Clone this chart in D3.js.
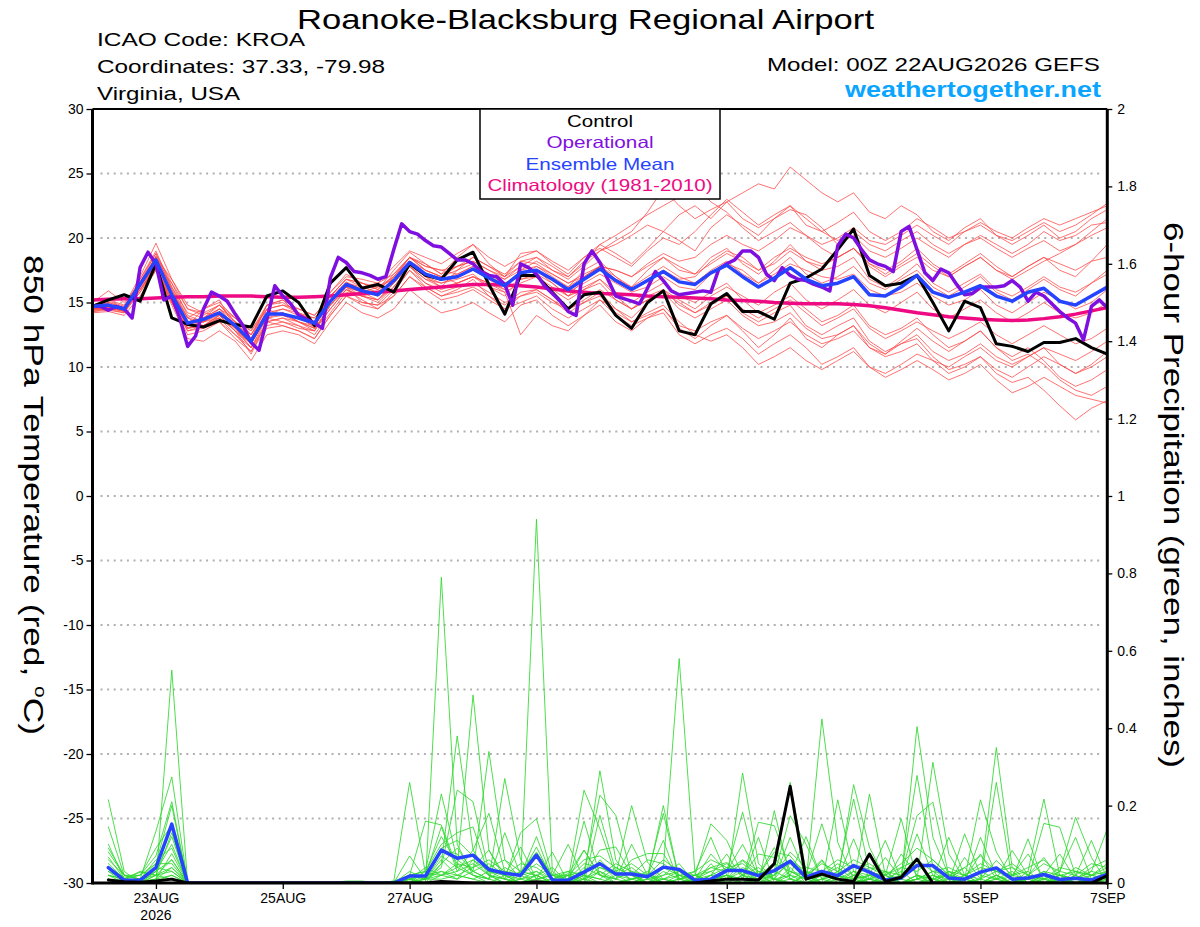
<!DOCTYPE html>
<html><head><meta charset="utf-8">
<script src="https://cdn.jsdelivr.net/npm/d3@7"></script>
<style>
body{margin:0;background:#fff}
svg{display:block}
text{font-family:"Liberation Sans",Arial,Helvetica,sans-serif}
</style>
</head><body>
<svg id="c" width="1200" height="927"></svg>
<script>
// ---------------- DATA ----------------
const titleText = "Roanoke-Blacksburg Regional Airport";
const infoLines = ["ICAO Code: KROA", "Coordinates: 37.33, -79.98", "Virginia, USA"];
const modelText = "Model: 00Z 22AUG2026 GEFS";
const siteText = "weathertogether.net";
const legendLabels = ["Control", "Operational", "Ensemble Mean", "Climatology (1981-2010)"];
const leftLabel = "850 hPa Temperature (red, ";
const rightLabel = "6-hour Precipitation (green, inches)";

const tempTicks = [-30,-25,-20,-15,-10,-5,0,5,10,15,20,25,30];
const precipTicks = [0,0.2,0.4,0.6,0.8,1,1.2,1.4,1.6,1.8,2];
const dateTicks = ["2026-08-23","2026-08-25","2026-08-27","2026-08-29","2026-09-01","2026-09-03","2026-09-05","2026-09-07"];
const dateTickLabels = ["23AUG","25AUG","27AUG","29AUG","1SEP","3SEP","5SEP","7SEP"];
const yearLabel = "2026";

// 6-hourly temperatures from 00Z 22AUG to 00Z 7SEP (65 values)
const controlTemp = [14.7,15.2,15.6,15.1,18.0,13.8,13.3,13.1,13.6,13.3,13.1,15.5,15.9,15.0,13.2,16.5,17.7,
 16.1,16.4,15.8,18.0,17.1,16.8,18.3,18.9,16.4,14.1,17.1,17.1,15.8,14.5,15.6,15.8,
 14.0,13.0,15.0,15.9,12.8,12.5,14.9,15.7,14.3,14.3,13.7,16.5,16.9,17.6,19.1,20.7,
 17.1,16.3,16.5,17.1,15.0,12.8,15.1,14.6,11.8,11.6,11.2,11.9,11.9,12.2,11.5,11.0];
const meanTemp = [14.7,14.8,14.5,16.4,18.3,15.6,13.4,13.7,14.2,13.2,12.0,14.1,14.1,13.8,13.4,15.1,16.4,
 15.9,15.6,16.7,18.1,17.2,16.8,17.0,17.6,16.9,16.3,17.3,17.5,16.8,16.0,16.8,17.6,
 16.7,16.0,16.7,17.4,16.6,16.4,17.3,17.9,17.0,16.2,16.9,17.7,16.8,16.3,16.5,17.0,
 15.6,15.5,16.2,17.1,15.8,15.4,15.8,16.3,15.5,15.1,15.8,16.1,15.1,14.8,15.5,16.2];
const climTemp = [15.2,15.25,15.3,15.3,15.35,15.4,15.45,15.45,15.5,15.5,15.5,15.45,15.4,15.4,15.45,15.5,15.6,
 15.7,15.8,15.9,16.0,16.1,16.2,16.3,16.4,16.4,16.35,16.3,16.2,16.05,15.9,15.8,15.7,
 15.65,15.6,15.5,15.45,15.4,15.35,15.3,15.2,15.15,15.1,15.0,14.95,14.9,14.9,14.9,14.85,
 14.75,14.6,14.4,14.2,14.05,13.9,13.8,13.7,13.65,13.6,13.65,13.75,13.9,14.1,14.35,14.6];
// 3-hourly operational run (129 values)
const operTemp = [14.7,14.7,14.4,14.7,14.5,13.8,17.7,18.9,18.0,15.2,15.5,13.8,11.6,12.4,14.5,15.8,15.5,15.1,14.1,13.2,11.9,11.3,13.7,16.3,15.5,14.9,14.0,13.7,13.4,13.0,16.9,18.5,18.1,
 17.4,17.3,17.1,16.8,17.0,19.1,21.1,20.5,20.3,19.8,19.4,19.3,18.8,18.3,18.3,18.0,17.4,17.1,17.0,16.4,14.8,18.0,17.7,17.2,16.3,15.7,15.1,14.3,14.0,18.0,19.0,18.1,
 16.8,15.5,15.3,15.1,14.9,16.1,17.4,16.7,15.9,15.6,15.7,15.8,15.9,15.8,17.6,18.0,18.3,19.0,19.0,18.5,17.2,16.7,17.7,17.1,16.8,16.7,16.4,16.2,15.9,19.4,20.3,20.0,
 19.1,18.3,18.0,17.8,17.4,20.5,20.9,19.1,17.3,16.7,17.6,17.3,16.4,15.6,15.7,16.2,16.2,16.2,16.3,16.7,16.2,15.1,15.8,15.5,14.9,14.3,13.8,13.4,12.1,14.7,15.2,14.6];

// ensemble members, 6-hourly temperature (65 values each)
const tempMembers = [
 [14.5,15.0,14.6,16.8,19.0, 16.2,13.8,14.5,15.0,13.8,12.5, 14.8,15.2,14.0,13.0,15.8,17.2, 16.5,16.0,17.5,18.9,18.0,17.2, 18.5,19.5,18.0,17.0,18.8,19.0, 18.0,17.2,18.5,19.5,18.8,18.0, 19.2,20.5,19.8,19.0,20.8,21.8, 21.0,20.2,21.5,22.5,21.0,20.5, 21.2,22.0,20.5,19.8,20.5,21.5, 20.8,20.0,20.5,21.0,20.2,19.8, 20.5,21.2,20.5,21.0,21.8,22.7],
 [14.3,14.4,14.2,15.8,17.8, 15.0,12.5,12.8,13.5,12.5,11.2, 13.5,13.2,12.8,12.2,14.0,15.5, 15.0,14.8,15.5,17.0,16.2,15.5, 15.8,16.2,15.5,14.8,15.8,16.0, 15.2,14.5,15.0,15.5,14.2,13.5, 14.0,14.5,13.2,12.8,13.5,14.0, 13.0,12.2,12.8,13.5,12.5,11.8, 12.2,12.8,11.5,11.0,11.8,12.5, 11.2,10.5,11.0,11.8,10.8,10.2, 10.8,11.5,10.2,9.5,10.0,10.8],
 [14.8,15.2,14.8,17.0,19.6, 16.8,14.5,14.2,14.8,13.5,12.8, 14.5,14.8,14.5,14.0,15.5,16.8, 16.2,16.5,17.2,18.5,17.5,17.0, 17.8,18.2,17.5,16.8,17.5,18.2, 17.5,16.8,17.8,19.0,19.5,20.2, 21.0,20.5,21.8,22.5,21.5,22.8, 23.5,24.2,23.8,25.5,24.5,23.5, 22.8,23.5,22.0,21.5,22.5,21.8, 20.5,19.8,20.8,21.5,20.2,19.5, 20.2,21.0,20.0,20.5,21.5,22.2],
 [14.6,14.8,14.4,16.2,18.5, 15.5,13.0,13.2,14.0,12.8,11.5, 13.8,14.2,13.5,13.0,14.8,16.0, 15.5,15.2,16.5,17.8,16.8,16.5, 16.8,17.2,16.2,15.5,16.8,17.0, 16.0,15.2,16.0,16.5,15.2,14.5, 15.5,16.0,14.8,14.2,15.0,15.5, 14.2,13.5,14.2,14.8,13.2,12.5, 13.2,13.8,12.0,11.2,11.8,12.2, 10.8,9.8,10.2,10.8,9.5,8.8, 9.2,8.2,7.0,5.9,6.8,7.4],
 [14.4,14.6,14.3,16.0,18.0, 16.5,14.0,13.5,14.5,13.8,12.5, 14.2,14.0,13.8,13.5,15.5,16.5, 16.0,15.5,17.0,18.5,17.8,17.5, 17.2,17.8,17.2,16.5,17.0,17.8, 17.2,16.5,17.0,17.8,17.0,16.2, 17.5,18.5,17.8,17.2,18.5,19.2, 18.0,17.2,18.2,19.5,18.2,17.5, 17.8,18.5,16.8,16.2,17.0,18.0, 16.5,15.8,16.5,17.2,16.0,15.5, 16.2,17.0,16.2,15.8,16.5,17.5],
 [14.2,14.3,14.0,15.5,17.5, 14.8,12.2,12.0,12.8,12.0,10.5, 12.5,12.8,12.5,11.8,13.5,15.0, 14.2,13.8,14.5,16.0,15.0,14.2, 14.5,15.0,14.2,13.5,14.8,15.2, 14.0,13.2,14.0,14.8,13.5,12.8, 13.8,14.5,13.0,12.2,13.2,14.0, 12.8,11.5,12.5,13.8,12.2,11.5, 12.5,13.2,11.8,11.0,12.0,13.0, 12.0,11.2,12.0,12.8,11.5,10.8, 11.5,10.5,9.2,8.5,9.0,9.8],
 [15.0,15.9,15.0,16.5,18.2, 15.2,13.2,14.5,15.2,13.0,11.8, 14.0,14.5,14.2,13.8,15.2,16.2, 15.8,16.2,16.8,18.2,17.0,16.2, 17.5,18.0,17.2,16.8,17.8,17.5, 16.8,15.8,16.5,17.2,16.5,15.8, 16.2,17.0,16.2,16.0,17.2,18.0, 17.5,16.5,17.2,18.0,17.5,17.0, 16.8,17.2,16.0,15.5,15.8,16.5, 15.5,14.8,15.2,16.0,14.8,14.2, 15.0,15.8,15.2,14.5,15.0,16.0],
 [14.5,14.7,14.5,16.8,18.8, 16.0,13.5,13.8,14.2,13.0,11.8, 14.5,14.0,13.5,13.2,15.0,16.5, 16.2,15.8,17.2,18.5,17.5,17.0, 17.5,18.5,17.8,17.0,18.2,18.5, 17.8,17.0,18.2,19.0,19.8,20.5, 22.0,23.8,22.5,21.5,22.2,22.8, 21.5,20.8,21.5,22.2,21.8,20.8, 19.5,20.2,19.0,18.5,19.2,20.0, 19.2,18.5,19.5,20.2,19.5,18.8, 19.5,20.5,19.8,20.2,21.0,21.2],
 [14.6,14.9,14.4,16.2,18.0, 15.8,13.8,13.2,13.8,12.8,11.0, 13.5,13.8,13.2,12.8,14.5,16.0, 15.2,14.5,15.8,17.5,16.2,15.5, 16.0,16.8,15.5,14.5,15.0,15.5, 14.5,13.8,14.5,15.2,14.0,13.2, 13.8,14.2,12.5,11.8,12.5,13.0, 12.2,11.0,11.8,12.5,11.5,10.2, 10.8,11.5,10.0,9.2,9.8,10.5, 9.8,9.0,9.5,10.2,9.0,8.0, 8.5,9.2,8.5,7.8,7.5,7.2],
 [14.3,14.5,14.6,16.6,18.5, 16.8,14.8,14.2,14.0,13.2,12.2, 14.8,15.0,14.2,13.5,15.5,16.8, 16.5,16.0,17.0,18.2,17.5,17.0, 16.5,17.0,16.5,16.0,17.5,17.8, 17.0,16.2,17.5,18.2,17.0,16.0, 16.8,17.5,16.8,17.0,18.2,19.0, 18.5,17.5,18.0,19.0,18.2,17.8, 18.5,19.2,18.0,17.5,18.2,19.2, 18.0,17.2,18.0,18.8,17.8,17.0, 17.8,18.5,17.5,17.0,18.2,19.5],
 [14.7,14.8,14.5,16.0,17.8, 15.2,12.8,13.2,14.0,13.5,12.0, 13.8,13.5,13.0,12.8,14.8,16.2, 15.5,15.8,16.5,18.0,17.2,16.8, 17.0,17.5,17.0,16.2,17.2,17.5, 16.5,15.5,16.8,17.8,17.5,17.0, 18.0,18.8,18.2,18.5,19.5,20.2, 19.5,19.0,19.8,20.8,20.2,19.5, 20.0,20.8,19.8,19.5,20.2,21.0, 20.2,19.5,20.5,21.2,20.5,20.0, 20.8,21.5,21.0,21.5,22.0,22.5],
 [14.5,14.6,14.3,15.8,17.5, 15.0,13.0,13.5,13.8,12.5,11.5, 13.2,13.5,13.2,12.5,14.2,15.8, 15.5,15.0,16.2,17.8,16.5,16.0, 16.5,17.0,16.2,15.8,12.5,14.0, 13.2,12.8,14.0,15.2,14.5,13.8, 15.0,16.0,15.2,14.5,15.5,16.2, 15.5,14.8,15.8,16.5,15.2,14.5, 15.2,16.0,14.8,14.2,15.0,15.8, 14.5,13.8,14.5,15.2,14.2,13.5, 14.2,15.0,14.2,13.8,14.2,15.0],
 [14.4,14.5,14.2,16.3,18.2, 15.5,13.5,13.8,14.8,13.5,12.2, 14.2,14.5,14.0,13.8,15.0,16.2, 15.8,15.2,16.5,18.0,17.0,16.5, 17.0,17.5,16.8,16.0,16.8,17.2, 16.5,15.5,16.2,16.8,15.5,14.5, 15.2,15.8,14.5,13.8,14.5,15.2, 14.0,13.2,13.5,14.2,13.0,12.2, 12.5,13.2,11.5,10.8,11.2,11.8, 10.5,9.5,10.0,10.8,9.8,9.2, 10.0,10.8,10.2,9.5,10.2,11.2],
 [14.8,15.1,14.7,16.5,18.6, 16.2,14.2,13.8,14.5,13.5,12.5, 14.5,14.8,14.2,13.5,15.8,17.0, 16.8,16.5,17.8,19.0,18.5,18.0, 18.8,19.5,18.5,17.8,18.5,19.0, 18.2,17.5,18.5,19.2,18.5,17.8, 19.0,20.0,19.5,20.5,21.8,23.0, 22.0,21.0,21.8,22.5,21.5,20.5, 19.8,20.5,19.5,19.0,19.8,20.5, 19.5,18.8,19.5,20.0,19.2,18.5, 19.2,19.8,19.0,19.5,20.2,20.8],
 [14.6,14.7,14.6,16.4,18.4, 15.8,13.2,13.5,14.0,12.8,11.8, 13.8,14.0,13.8,13.2,15.0,16.5, 16.0,15.5,16.8,18.2,17.2,16.8, 17.2,17.8,17.0,16.5,17.2,17.5, 16.8,16.2,17.0,17.8,16.8,16.2, 17.0,17.8,17.0,16.5,17.5,18.2, 17.2,16.5,17.5,18.5,17.2,16.5, 17.0,17.8,16.5,16.0,16.8,17.5, 16.2,15.5,16.2,17.0,15.8,15.2, 16.0,16.8,16.0,15.5,16.5,17.2],
 [14.5,14.5,14.4,16.2,18.0, 15.5,13.0,13.2,13.8,13.0,11.5, 13.5,13.8,13.5,13.0,14.5,16.0, 15.5,15.2,16.2,17.8,16.8,16.2, 16.5,17.0,16.5,15.8,16.5,17.0, 16.2,15.5,16.0,16.8,15.8,15.0, 15.8,16.5,15.5,15.0,15.8,16.5, 15.2,14.2,14.8,15.5,14.5,13.5, 14.0,14.8,13.2,12.5,13.0,13.8, 12.5,11.5,12.0,12.8,11.5,10.5, 11.0,10.2,9.0,8.2,7.8,8.5],
 [14.6,14.6,14.5,16.5,18.5, 16.0,13.8,13.5,14.2,13.2,12.0, 14.0,14.2,13.8,13.5,15.2,16.6, 16.0,15.8,16.8,18.5,17.8,17.5, 17.8,18.2,17.5,17.0,17.8,18.5, 17.5,17.0,18.0,19.5,20.2,21.0, 21.8,22.5,23.2,24.0,22.8,22.0, 20.8,19.8,20.5,21.2,20.2,19.2, 18.5,19.2,18.0,17.2,18.0,18.8, 17.8,17.0,17.8,18.5,17.5,16.8, 17.5,18.2,18.8,19.5,20.5,21.5],
 [14.4,14.8,14.3,16.0,17.8, 15.2,13.2,13.8,14.5,13.2,11.8, 14.0,14.2,13.5,12.8,14.8,16.2, 15.0,14.8,16.0,17.5,16.5,15.8, 16.2,16.5,15.8,15.0,15.5,16.0, 15.2,14.2,15.0,15.8,14.5,13.5, 14.2,14.8,13.5,12.5,12.0,12.5, 11.5,10.2,10.8,11.5,10.5,9.8, 10.5,11.2,10.0,9.5,10.2,11.0, 10.5,10.0,10.8,11.5,10.5,10.0, 10.8,11.5,11.0,10.5,11.2,12.0],
 [14.7,15.0,14.6,16.6,18.8, 16.5,14.5,14.0,14.8,13.8,12.8, 14.8,15.2,14.5,14.0,15.5,16.8, 16.5,16.2,17.0,18.5,18.0,17.2, 17.8,18.5,17.8,17.2,18.2,18.0, 17.2,16.5,17.2,17.8,17.5,17.0, 17.8,18.5,17.5,17.2,18.0,18.8, 18.2,17.5,18.5,19.2,18.5,18.0, 18.5,19.2,17.8,17.0,17.8,18.5, 17.5,17.0,17.8,18.5,17.5,17.0, 17.8,18.5,18.0,17.5,18.2,18.5],
 [14.5,14.6,14.4,16.0,17.6, 15.0,12.8,13.0,13.5,12.2,11.2, 13.0,13.2,12.8,12.2,14.0,15.5, 14.8,14.5,15.5,17.0,16.0,15.2, 15.5,16.0,15.2,14.5,15.5,15.8, 15.0,14.5,15.2,16.0,15.2,14.5, 15.2,15.8,15.0,14.2,14.8,15.5, 14.5,13.8,14.5,15.2,14.2,13.2, 13.8,14.5,13.0,12.2,12.8,13.5, 12.8,12.2,12.8,13.5,12.5,11.8, 12.5,13.2,12.5,11.8,12.2,13.0]
];

// 6-hour precipitation, 06Z 22AUG .. 00Z 7SEP (64 values)
const controlPrecip = [.008,.003,.002,.005,.01,0,0,0, 0,0,0,0,0,0,0,0, 0,0,0,0,0,.004,.002,0, 0,0,0,.003,0,0,0,0,
 0,0,0,0,0,0,.005,.01, .01,.008,.05,.25,.01,.023,.01,.004, .075,.004,.015,.062,0,0,0,0, 0,0,0,0,0,0,0,.019];
const meanPrecip = [.04,.007,.007,.04,.152,0,0,0, 0,0,0,0,0,0,0,0, 0,0,0,.018,.018,.085,.064,.072, .035,.025,.02,.072,.008,.007,.028,.05,
 .023,.023,.016,.041,.035,.007,.01,.032, .032,.019,.032,.056,.015,.03,.019,.045, .028,.008,.013,.045,.045,.013,.01,.028, .039,.01,.013,.022,.009,.012,.008,.022];
const precipMembers = [
 [.215,.03,0,0,.55,0,0,0, 0,0,0,0,0,0,0,0, 0,0,0,.01,0,.79,.1,.02, 0,0,.03,0,0,.01,.085,.02, 0,0,.01,0,0,0,.02,0, .284,.05,.01,0,.02,0,0,.03, 0,0,.01,.404,.118,.02,0,0, .01,0,.02,.066,.01,0,0,.01],
 [.145,.02,.01,.134,.274,0,0,0, 0,0,0,0,0,0,0,0, 0,0,.005,.26,.024,.02,.04,.486, .085,.01,0,.02,.04,0,.01,.29, .06,0,.02,0,0,.01,0,.02, 0,.01,.03,.26,.03,0,.02,0, .01,0,0,.02,0,.03,0,.01, .35,.04,0,.01,0,.02,0,0],
 [.1,.01,.02,.09,.15,0,0,0, 0,0,0,0,0,0,0,0, 0,0,0,.02,.01,.05,.38,.085, .02,0,.01,.94,.03,0,.02,0, 0,.01,0,.02,.05,0,.01,0, .02,0,.187,.01,0,.424,.105,.01, 0,.02,0,0,.01,0,.02,0, 0,.01,0,0,.02,.01,.03,.14],
 [.067,.01,.03,.02,.13,0,0,0, 0,0,0,0,0,0,0,0, 0,0,0,0,.03,.23,.06,.03, .34,.06,.01,.02,0,.01,0,.03, .01,0,.02,.04,.58,.024,0,.01, 0,.02,0,.01,.03,0,.01,.254, .092,.01,0,.02,0,.01,.04,0, .02,0,.01,0,.03,.17,.066,0],
 [.06,.02,.01,.06,.09,0,0,0, 0,0,0,0,0,0,0,0, 0,0,0,.02,.16,.15,.04,.02, .01,.27,.06,.01,0,.02,.01,0, .02,.2,.054,.01,0,.02,0,.03, .183,.02,0,.04,0,.01,.02,0, .01,.03,0,.01,.312,.075,.01,0, .02,0,.03,.217,.02,0,.01,.02],
 [.04,0,.005,.01,.076,0,0,0, 0,0,0,0,0,0,0,0, 0,0,0,.07,.01,.04,.24,.21, .03,.01,0,.02,0,.01,.24,.14, .02,0,.01,.2,.01,0,.02,.01, .03,0,.02,.174,.1,.01,0,.02, 0,.01,.02,.278,.04,0,.01,.215, .08,.01,0,.02,0,.01,.02,.01],
 [.03,.01,.028,.02,.06,0,0,0, 0,0,0,0,0,0,0,0, 0,0,0,.01,.02,.145,.03,.05, .02,.01,.13,.166,.02,.1,.01,.03, 0,.01,.02,.18,.01,.02,.153,.11, .02,0,.03,.01,0,.02,.01,0, .23,.02,0,.01,0,.03,.01,0, .26,.01,.114,0,.02,0,.01,.03],
 [.02,.01,.01,.05,.05,0,0,0, 0,0,0,0,0,0,0,0, 0,0,.005,.02,.03,.1,.13,.145, .02,0,.01,.03,0,.02,.03,.227, .175,.02,0,.01,.02,0,.01,.02, .01,.157,.148,.03,.01,0,.02,.01, 0,.02,.166,.01,.03,0,.02,.01, 0,.02,.01,.154,.144,.02,0,.01],
 [.02,0,0,.01,.04,0,0,0, 0,0,0,0,0,0,0,0, 0,0,0,.03,.01,.02,.03,.085, .18,.03,.02,.12,.01,0,.16,.02, .01,.1,.02,0,.01,.03,.118,.02, 0,.03,.01,0,.02,.153,.02,.217, .03,.01,0,.02,.01,0,.127,.02, .01,0,.02,.01,.03,.118,.01,.023],
 [.01,0,.01,.04,.03,0,0,0, 0,0,0,0,0,0,0,0, 0,0,0,.01,.02,.085,.075,.03, .01,.13,.02,.093,.01,.02,0,.175, .03,.01,.02,.11,0,.01,.075,.03, .1,.02,.01,.118,.02,0,.215,.03, .01,0,.02,.174,.209,.02,0,.01, .03,.01,0,.02,.075,.01,0,.02],
 [.01,0,0,.01,.02,0,0,0, 0,0,0,0,0,0,0,0, 0,0,0,0,.01,.03,.02,.04, .085,.02,.093,.01,.08,0,.02,.085, .093,.02,0,.01,.03,0,.02,.075, .01,.118,0,.02,.12,.01,.03,0, .02,.11,.01,0,.02,.01,0,.118, .02,0,.01,.03,0,.02,.11,.01],
 [0,0,0,.02,.01,0,0,0, 0,0,0,0,0,0,0,0, 0,0,0,.01,0,.02,.01,.03, .01,0,.02,.03,.01,.024,.085,.02, .01,.06,.076,.076,.01,.02,0,.01, .058,.02,.092,.01,0,.02,.01,.114, .01,0,.075,.02,.01,.118,.02,0, .01,.084,.02,0,.01,0,.02,.01],
 [.01,0,0,.005,.02,0,0,0, 0,0,0,0,0,0,0,0, 0,0,0,.02,.01,.06,.02,.01, .03,.02,0,.01,.02,0,.01,.04, .02,.01,.03,0,.02,.01,.04,.053, .02,.01,0,.03,.01,.058,0,.02, .01,.066,.01,.127,.02,0,.066,.01, .058,.02,.075,.01,0,.03,.01,0],
 [.02,.01,0,.03,.06,0,0,0, 0,0,0,0,0,0,0,.005, .005,0,0,.01,.04,.02,.05,.02, .01,.04,.02,0,.01,.03,.02,.01, .04,.02,0,.03,.01,.02,.03,0, .02,.075,.066,.02,.01,.03,0,.01, .02,.01,.03,0,.01,.02,.01,.075, .01,.03,0,.01,.02,.01,.03,.02],
 [.03,0,.01,.02,.04,0,0,0, 0,0,0,0,0,0,0,0, 0,0,0,0,.02,.03,.01,.06, .02,.01,.03,.02,0,.01,.03,.05, .01,.03,.02,.01,0,.01,.02,.04, .03,.01,.02,.05,.01,.02,.04,.01, .02,.03,0,.01,.03,.02,.01,.03, .01,.02,.03,0,.01,.04,.02,.03],
 [.05,.01,0,.03,.12,0,0,0, 0,0,0,0,0,0,0,0, 0,0,0,.01,0,.05,.09,.03, .05,.02,0,.01,.02,.03,0,.06, .02,.04,.01,.02,.03,0,.05,.01, .04,.02,.05,.03,.02,.06,.01,.03, .02,0,.04,.03,.06,.02,.01,.03, .04,.01,0,.03,.02,.01,.04,.06],
 [.08,.02,.01,.03,.1,0,0,0, 0,0,0,0,0,0,0,0, 0,0,0,.005,.01,.07,.04,.06, .03,.02,.05,.04,.01,0,.04,.02, .05,.03,0,.04,.02,.01,.03,.05, .02,.04,.01,.06,.03,.02,.05,.02, .04,.03,.02,.05,.01,.03,.02,.04, .03,.05,.02,.01,.04,.03,.02,.05],
 [.04,.015,.02,.05,.2,0,0,0, 0,0,0,0,0,0,0,0, 0,0,0,.02,.03,.12,.05,.04, .06,.03,.02,.05,.02,.01,.05,.04, .03,.05,.02,.06,.03,.02,.04,.03, .06,.03,.02,.08,.04,.03,.06,.04, .05,.02,.04,.06,.03,.04,.02,.05, .03,.04,.02,.05,.03,.02,.05,.04],
 [.09,.02,.02,.07,.21,0,0,0, 0,0,0,0,0,0,0,0, 0,0,0,.01,.02,.09,.11,.07, .04,.06,.03,.08,.02,.02,.06,.07, .04,.02,.06,.05,.02,.03,.06,.04, .05,.02,.08,.07,.02,.05,.03,.06, .04,.02,.05,.09,.06,.02,.04,.07, .03,.02,.04,.06,.02,.03,.02,.04],
 [.01,0,0,.02,.03,0,0,0, 0,0,0,0,0,0,0,0, 0,0,0,0,.01,.01,.02,.01, 0,.02,.01,0,.01,0,.02,.01, 0,.01,.02,0,.01,0,.01,.02, .01,0,.01,.02,0,.01,.02,0, .01,.02,0,.01,.02,0,.01,0, .02,0,.01,.02,0,.01,0,.01]
];

// ---------------- CHART ----------------
const svg = d3.select("#c");
const L = 92.5, R = 1107.3, T = 109, B = 883;
const t0 = Date.UTC(2026, 7, 22, 0);
const tAt = h => new Date(t0 + h * 3600e3);
const x = d3.scaleUtc().domain([tAt(0), tAt(16 * 24)]).range([L, R]);
const yT = d3.scaleLinear().domain([-30, 30]).range([B, T]);
const yP = d3.scaleLinear().domain([0, 2]).range([B, T]);

const COL = {member:"#ff4646", precip:"#2fd82f", control:"#000000", oper:"#7f0fdf", mean:"#2643ff", clim:"#ee0a82", grid:"#b0b0b0", site:"#0aa5ff"};

svg.append("rect").attr("width",1200).attr("height",927).attr("fill","#fff");
svg.append("defs").append("clipPath").attr("id","clip")
  .append("rect").attr("x",L).attr("y",T).attr("width",R-L).attr("height",B-T);

// gridlines
svg.append("g").selectAll("line").data(tempTicks.filter(v => v > -30 && v < 30)).join("line")
  .attr("x1", L + 8).attr("x2", R - 4).attr("y1", d => yT(d)).attr("y2", d => yT(d))
  .attr("stroke", COL.grid).attr("stroke-width", 2).attr("stroke-dasharray", "2,4.6");

const plot = svg.append("g").attr("clip-path", "url(#clip)");
function drawLine(values, stepH, offsetH, yScale, color, width, opacity) {
  const line = d3.line().x((d, i) => x(tAt(offsetH + i * stepH))).y(d => yScale(d));
  plot.append("path").attr("d", line(values)).attr("fill", "none")
    .attr("stroke", color).attr("stroke-width", width)
    .attr("stroke-linejoin", "round").attr("stroke-linecap", "round")
    .attr("opacity", opacity);
}
tempMembers.forEach(m => drawLine(m, 6, 0, yT, COL.member, 0.9, 0.85));
precipMembers.forEach(m => drawLine(m, 6, 6, yP, COL.precip, 0.9, 0.95));
drawLine(climTemp, 6, 0, yT, COL.clim, 3.5, 1);
drawLine(controlTemp, 6, 0, yT, COL.control, 3, 1);
drawLine(operTemp, 3, 0, yT, COL.oper, 3.5, 1);
drawLine(meanTemp, 6, 0, yT, COL.mean, 3.5, 1);
drawLine(meanPrecip, 6, 6, yP, COL.mean, 3.5, 1);
drawLine(controlPrecip, 6, 6, yP, COL.control, 3, 1);

// axes
const fontFam = '"Liberation Sans",Arial,Helvetica,sans-serif';
function styleAxis(g) {
  g.attr("font-size", 14).attr("font-family", fontFam);
  g.select(".domain").remove();
  g.selectAll(".tick line").attr("stroke", "#000").attr("stroke-width", 1.3);
  g.selectAll(".tick text").attr("fill", "#000");
}
svg.append("g").attr("transform", `translate(${L},0)`)
  .call(d3.axisLeft(yT).tickValues(tempTicks).tickSize(6).tickPadding(3).tickFormat(d => String(d)))
  .call(styleAxis);
svg.append("g").attr("transform", `translate(${R},0)`)
  .call(d3.axisRight(yP).tickValues(precipTicks).tickSize(5).tickPadding(5).tickFormat(d => String(+d.toFixed(1))))
  .call(styleAxis);
const dateVals = dateTicks.map(s => new Date(s + "T00:00:00Z"));
svg.append("g").attr("transform", `translate(0,${B})`)
  .call(d3.axisBottom(x).tickValues(dateVals).tickSize(6).tickPadding(4).tickFormat((d, i) => dateTickLabels[i]))
  .call(styleAxis);
svg.append("text").attr("x", x(dateVals[0])).attr("y", 920).attr("text-anchor", "middle")
  .attr("font-size", 14).text(yearLabel);

// spines
svg.append("line").attr("x1", L).attr("x2", R).attr("y1", T).attr("y2", T).attr("stroke", "#000").attr("stroke-width", 2);
svg.append("line").attr("x1", L).attr("x2", R).attr("y1", B).attr("y2", B).attr("stroke", "#000").attr("stroke-width", 3);
svg.append("line").attr("x1", L).attr("x2", L).attr("y1", T).attr("y2", B + 1.5).attr("stroke", "#000").attr("stroke-width", 3);
svg.append("line").attr("x1", R).attr("x2", R).attr("y1", T).attr("y2", B + 1.5).attr("stroke", "#000").attr("stroke-width", 3);

// legend
svg.append("rect").attr("x", 480).attr("y", 109).attr("width", 240).attr("height", 90)
  .attr("fill", "#fff").attr("stroke", "#000").attr("stroke-width", 1.5);
const legendColors = [COL.control, COL.oper, COL.mean, COL.clim];
const legendY = [126.5, 148, 169.5, 191];
const legendW = [66, 107, 149, 225];
legendLabels.forEach((t, i) => {
  svg.append("text").attr("x", 600).attr("y", legendY[i]).attr("text-anchor", "middle")
    .attr("font-size", 16.5).attr("fill", legendColors[i])
    .attr("textLength", legendW[i]).attr("lengthAdjust", "spacingAndGlyphs").text(t);
});

// titles
svg.append("text").attr("x", 297).attr("y", 29).attr("font-size", 28.5)
  .attr("textLength", 577).attr("lengthAdjust", "spacingAndGlyphs").text(titleText);
const infoY = [46, 72.5, 99.5], infoW = [208, 288, 143];
infoLines.forEach((t, i) => {
  svg.append("text").attr("x", 97).attr("y", infoY[i]).attr("font-size", 18.5)
    .attr("textLength", infoW[i]).attr("lengthAdjust", "spacingAndGlyphs").text(t);
});
svg.append("text").attr("x", 767).attr("y", 71).attr("font-size", 18.5)
  .attr("textLength", 333).attr("lengthAdjust", "spacingAndGlyphs").text(modelText);
svg.append("text").attr("x", 845).attr("y", 97).attr("font-size", 22.5).attr("font-weight", "bold")
  .attr("fill", COL.site).attr("textLength", 256).attr("lengthAdjust", "spacingAndGlyphs").text(siteText);

// axis titles (rotated)
const lt = svg.append("text").attr("transform", "translate(24,495) rotate(90)")
  .attr("text-anchor", "middle").attr("font-size", 27)
  .attr("textLength", 480).attr("lengthAdjust", "spacingAndGlyphs");
lt.append("tspan").text(leftLabel);
lt.append("tspan").attr("font-size", 16).attr("dy", -11).text("o");
lt.append("tspan").attr("dy", 11).text("C)");
svg.append("text").attr("transform", "translate(1164,495) rotate(90)")
  .attr("text-anchor", "middle").attr("font-size", 27)
  .attr("textLength", 546).attr("lengthAdjust", "spacingAndGlyphs").text(rightLabel);
</script>
</body></html>
